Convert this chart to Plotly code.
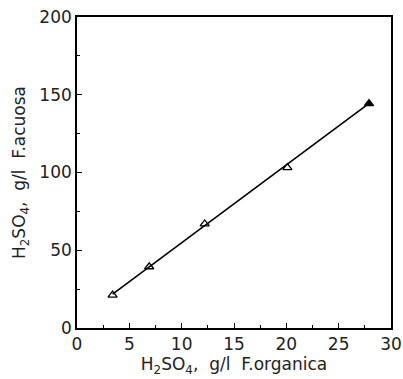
import plotly.graph_objects as go

# Data
x_org = [3.4, 6.9, 12.2, 20.1, 27.9]
y_acu = [21.2, 39.4, 66.9, 103.1, 144.3]
marker_symbols = ["triangle-up-open", "triangle-up-open", "triangle-up-open", "triangle-up-open", "triangle-up"]

# fitted straight line (end points)
line_x = [3.4, 28.0]
line_y = [21.8, 145.0]

x_ticks = [0, 5, 10, 15, 20, 25, 30]
y_ticks = [0, 50, 100, 150, 200]

font_family = "DejaVu Sans"
sub = lambda s: "<sub>" + s + "</sub>"

x_title = "H" + sub("2") + "SO" + sub("4") + ",  g/l  F.organica"
y_title = "H" + sub("2") + "SO" + sub("4") + ",  g/l  F.acuosa"

fig = go.Figure()
fig.add_trace(go.Scatter(x=line_x, y=line_y, mode="lines",
                         line=dict(color="black", width=1.6), showlegend=False))
fig.add_trace(go.Scatter(x=x_org, y=y_acu, mode="markers",
                         marker=dict(symbol=marker_symbols, size=8, color="black",
                                     line=dict(color="black", width=1.3)),
                         showlegend=False))

axis_common = dict(showgrid=False, zeroline=False, showline=True, linecolor="black",
                   linewidth=1.6, mirror=True, ticks="inside", ticklen=5, tickwidth=1.2,
                   tickcolor="black", automargin=False,
                   tickfont=dict(family=font_family, size=17, color="#222"),
                   minor=dict(ticks="inside", ticklen=3, tickwidth=1, tickcolor="black"))

fig.update_xaxes(range=[0, 30], tickvals=x_ticks, ticktext=[str(v) for v in x_ticks],
                 title=dict(text=x_title,
                            font=dict(family=font_family, size=17, color="#222"), standoff=5),
                 minor_dtick=2.5, **axis_common)
fig.update_yaxes(range=[0, 200], tickvals=y_ticks, ticktext=[str(v) for v in y_ticks],
                 title=dict(text=y_title,
                            font=dict(family=font_family, size=17, color="#222"), standoff=9),
                 minor_dtick=25, **axis_common)

fig.update_layout(width=403, height=379, margin=dict(l=77, r=12, t=17, b=51),
                  plot_bgcolor="white", paper_bgcolor="white")

fig.write_html("out.html", config={"displayModeBar": False},
               post_script="document.body.style.margin='0px';document.body.style.overflow='hidden';")
